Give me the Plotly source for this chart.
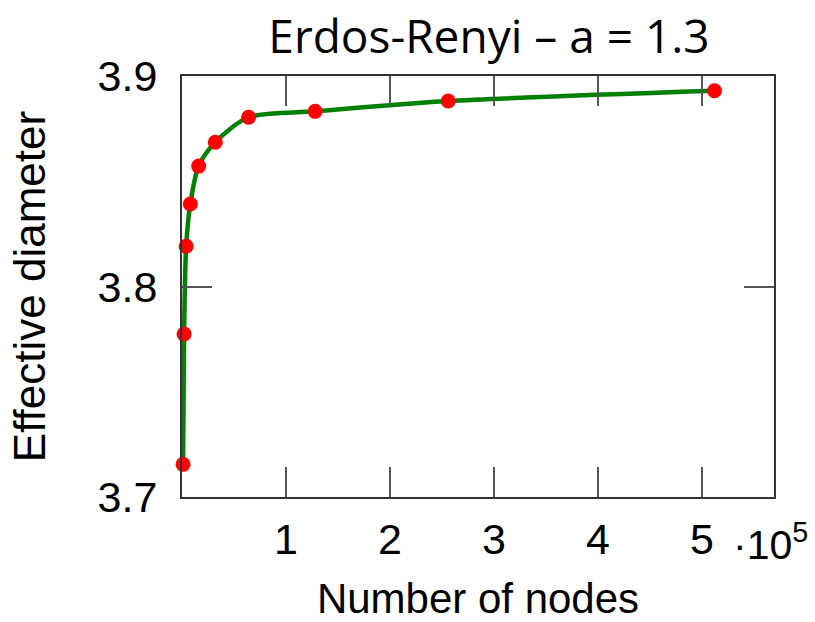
import plotly.graph_objects as go

nodes = [1000, 2000, 4000, 8000, 16000, 32000, 64000, 128000, 256000, 512000]
eff_diameter = [3.7155, 3.7774, 3.8191, 3.8392, 3.8572, 3.8685, 3.8804, 3.8832, 3.8881, 3.8930]
x_tickvals = [100000, 200000, 300000, 400000, 500000]
x_ticktext = ["1", "2", "3", "4", "5"]
y_tickvals = [3.7, 3.8, 3.9]
y_ticktext = ["3.7", "3.8", "3.9"]

fig = go.Figure()
fig.add_trace(go.Scatter(
    x=nodes, y=eff_diameter, mode="lines+markers",
    line=dict(color="#008000", width=4.5, shape="spline", smoothing=0.8),
    marker=dict(color="#ff0000", size=15),
    cliponaxis=False, showlegend=False,
))

sans = "Liberation Sans, Arial, sans-serif"
axis_font = dict(family=sans, size=43, color="#000")
fig.update_layout(
    width=815, height=622,
    margin=dict(l=182, r=41, t=76, b=125),
    paper_bgcolor="white", plot_bgcolor="white",
    title=dict(text="Erdos-Renyi – a = 1.3", x=0.6, xanchor="center", y=0.94, yanchor="middle",
               font=dict(family="Open Sans, Noto Sans, sans-serif", size=46, color="#000")),
    xaxis=dict(
        range=[0, 569200], tickvals=x_tickvals, ticktext=x_ticktext, automargin=False,
        ticks="inside", ticklen=30, tickwidth=1.5, tickcolor="#555",
        showline=True, linecolor="#333", linewidth=2, mirror="ticks",
        showgrid=False, zeroline=False, tickfont=axis_font, ticklabelstandoff=3,
        title=dict(text="Number of nodes", font=dict(family=sans, size=42, color="#000"), standoff=22),
    ),
    yaxis=dict(
        range=[3.7, 3.9], tickvals=y_tickvals, ticktext=y_ticktext, automargin=False,
        ticks="inside", ticklen=30, tickwidth=1.5, tickcolor="#555",
        showline=True, linecolor="#333", linewidth=2, mirror="ticks",
        showgrid=False, zeroline=False, tickfont=axis_font, ticklabelstandoff=14,
        title=dict(text="Effective diameter", font=dict(family=sans, size=44, color="#000"), standoff=38),
    ),
    annotations=[dict(
        text="·10<sup>5</sup>", xref="paper", yref="paper", x=0.928, y=-0.108,
        xanchor="left", yanchor="middle", showarrow=False,
        font=dict(family=sans, size=41, color="#000"),
    )],
)

fig.write_html("out.html")
